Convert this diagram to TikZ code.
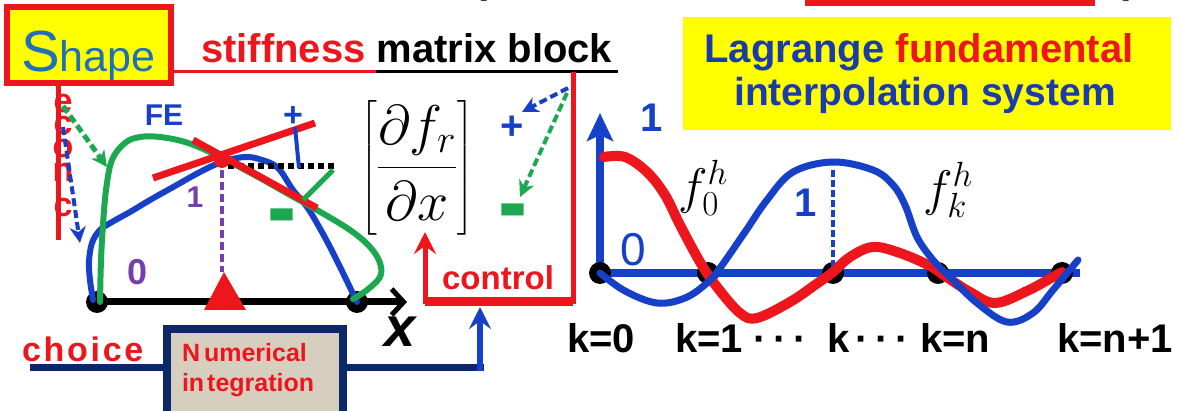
\RequirePackage{fix-cm}
\documentclass[tikz,border=0pt]{standalone}
\usepackage{fontspec}
\setmainfont{Liberation Sans}
\usepackage{amsmath}
\usetikzlibrary{arrows.meta}
\definecolor{rd}{RGB}{236,22,28}
\definecolor{bl}{RGB}{22,64,200}
\definecolor{lagblue}{RGB}{25,60,170}
\definecolor{shapeblue}{RGB}{30,112,185}
\definecolor{navy}{RGB}{12,40,105}
\definecolor{gr}{RGB}{28,168,80}
\definecolor{pu}{RGB}{118,62,170}
\definecolor{yel}{RGB}{255,255,0}
\definecolor{beige}{RGB}{214,206,190}
\newcommand{\fsz}[1]{\fontsize{#1}{#1}\selectfont}
\begin{document}
\begin{tikzpicture}[x=1pt,y=-1pt,
  txt/.style={inner sep=0pt, outer sep=0pt},
  dotb/.style={fill=black, circle, inner sep=0pt, minimum size=22pt},
  curve/.style={line cap=round, line join=round},
  darr/.style={dash pattern=on 8pt off 4pt, line width=4pt, -{Stealth[length=16pt,width=16pt,inset=5pt]}},
  bigminus/.style={txt, anchor=base},
  vlet/.style={txt, text=rd},
]
\useasboundingbox (0,0) rectangle (1181,411);
\fill[white] (0,0) rectangle (1181,411);

% top fragments
\draw[rd, line width=7pt] (805,3) -- (1095,3);
\node[txt, anchor=base] (ya) at (488,-6) {\fsz{40}$y$};
\node[txt, anchor=base] (yb) at (1130,-6) {\fsz{40}$y$};

% Shape box
\node[draw=rd, line width=6pt, fill=yel, minimum width=164pt, minimum height=76pt, inner sep=0pt] (shapebox) at (89,45) {};
\node[txt, anchor=base west, text=shapeblue] (shapetxt) at (21,72) {\fsz{58}S\fsz{43}hape};

% title
\node[txt, anchor=base west] (title) at (201,63) {\fsz{40}\bfseries\textcolor{rd}{stiffness} matrix block};
\coordinate (ul1) at (376,72);
\coordinate (ulend) at (618,72);
\coordinate (corner) at (573,72);
\draw[rd, line width=3pt] (shapebox.east |- ul1) -- (ul1);
\draw[black, line width=3pt] (ul1) -- (ulend);

% vertical red line with letters
\coordinate (ch0) at (58,86);
\coordinate (ch1) at (58,240);
\draw[rd, line width=5pt] (ch0) -- (ch1);
\node[vlet] (l1) at (63,104) {\fsz{34}\bfseries e};
\node[vlet] (l2) at (63,126) {\fsz{34}\bfseries c};
\node[vlet] (l3) at (63,149) {\fsz{34}\bfseries o};
\node[vlet] (l4) at (63,172) {\fsz{34}\bfseries n};
\node[vlet] (l5) at (63,208) {\fsz{34}\bfseries c};

% dashed arrows left
\coordinate (da0) at (63,127); \coordinate (da1) at (80,243);
\draw[darr, bl] (da0) -- (da1);
\coordinate (dg0) at (63,106); \coordinate (dg1) at (107,167);
\draw[darr, gr, line width=5pt] (dg0) -- (dg1);

% axis
\coordinate (a0) at (97,302); \coordinate (a1) at (407,302);
\draw[line width=7pt, -{Straight Barb[length=12pt,width=26pt,line width=5pt]}] (a0) -- (a1);
\node[dotb] (d0) at (a0) {};
\node[dotb] (d1) at (357,302) {};

% curves
\draw[bl, line width=6pt, curve] plot[smooth, tension=0.6] coordinates {(93,300) (90,280) (89,262) (92,243) (100,230) (112,222) (130,212) (150,200) (175,186) (200,172) (222,162) (245,157) (262,160) (278,168) (293,190) (307,207) (318,225) (330,247) (343,273) (357,302)};
\draw[gr, line width=6pt, curve] plot[smooth, tension=0.6] coordinates {(100,302) (101,260) (103,225) (106,190) (112,160) (125,143) (140,137) (160,137) (185,142) (210,152) (230,162) (260,178) (290,195) (317,210) (350,230) (370,247) (380,263) (380,277) (367,290) (353,299)};

\draw[pu, line width=4pt, dash pattern=on 8pt off 4pt] (222,170) -- (222,272);
\fill[rd] (224,272) -- (246,310) -- (204,310) -- cycle;
\draw[black, line width=6pt, dash pattern=on 6pt off 4pt] (228,166) -- (334,166);

% red X
\draw[rd, line width=7pt] (153,178) -- (315,123);
\draw[rd, line width=7pt] (193,140) -- (317,208);
\fill[rd] (222,160) circle (8pt);
\draw[bl, line width=4pt] (295,127) -- (299,168);
\draw[gr, line width=5pt] (333,170) -- (303,200);

\node[txt, text=bl] (fe) at (164,115) {\fsz{30}\bfseries FE};
\node[txt, text=bl] (plus1) at (293,117) {\fsz{34}\bfseries +};
\node[bigminus, text=gr] (minus1) at (282,248) {\scalebox{1}[2.7]{\fsz{45}\bfseries –}};
\node[txt, text=pu] (p1) at (195,197) {\fsz{30}\bfseries 1};
\node[txt, text=pu] (p0) at (138,272) {\fsz{36}\bfseries 0};

% matrix
\node[txt] (mat) at (417,168) {\fsz{56}$\left[\dfrac{\partial f_r}{\partial x}\right]$};
\node[txt, text=bl] (plus2) at (512,128) {\fsz{40}\bfseries +};
\node[bigminus, text=gr] (minus2) at (513,243) {\scalebox{1}[2.7]{\fsz{45}\bfseries –}};
\coordinate (dd0) at (568,88); \coordinate (dd1) at (522,112);
\draw[darr, bl] (dd0) -- (dd1);
\coordinate (dh0) at (567,93); \coordinate (dh1) at (520,197);
\draw[darr, gr] (dh0) -- (dh1);

% control bracket
\coordinate (cb0) at (573,302); \coordinate (cb1) at (425,302); \coordinate (cbtip) at (425,232);
\draw[rd, line width=5pt, -{Stealth[length=22pt,width=22pt,inset=8pt]}] (corner) -- (cb0) -- (cb1) -- (cbtip);
\draw[rd, line width=9pt] (cb1) -- (cb0);
\node[txt, text=rd, anchor=base] (ctrl) at (498,290) {\fsz{33}\bfseries control};

% numerical integration
\coordinate (nl0) at (30,368); \coordinate (nl1) at (484,368);
\node[draw=navy, line width=8pt, fill=beige, minimum width=176pt, minimum height=110pt, anchor=north, inner sep=0pt] (numbox) at (255,325) {};
\draw[navy, line width=7pt] (nl0) -- (nl0 -| numbox.west);
\draw[navy, line width=7pt] (nl0 -| numbox.east) -- (nl1);
\coordinate (bu0) at (480,371); \coordinate (butip) at (480,307);
\draw[bl, line width=6pt, -{Stealth[length=22pt,width=22pt,inset=8pt]}] (bu0) -- (butip);
\node[txt, text=rd, anchor=base west] (num1) at (182,362) {\fsz{25}\bfseries N\hspace{4pt}umerical};
\node[txt, text=rd, anchor=base west] (num2) at (182,392) {\fsz{25}\bfseries in\hspace{3pt}tegration};
\node[txt, text=rd, anchor=base west] (choice) at (22,362) {\fsz{34}\bfseries\addfontfeatures{LetterSpace=8}choice};
\node[txt, anchor=base] (xl) at (400,347) {\fsz{56}\bfseries\itshape x};

% Lagrange box
\node[fill=yel, minimum width=488pt, minimum height=113pt, inner sep=0pt] (lagbox) at (927,74) {};
\node[txt, anchor=base] (lag1) at (919,63) {\fsz{40}\bfseries\textcolor{lagblue}{Lagrange} \textcolor{rd}{fundamental}};
\node[txt, anchor=base, text=lagblue] (lag2) at (925,106) {\fsz{39}\bfseries interpolation system};

% right plot
\coordinate (o) at (600,273); \coordinate (ytip) at (600,113); \coordinate (xend) at (1080,273);
\draw[bl, line width=8pt] (o) -- (xend);
\draw[bl, line width=8pt, -{Stealth[length=28pt,width=26pt,inset=6pt]}] (o) -- (ytip);
\node[dotb] (k0) at (600,273) {};
\node[dotb] (k1) at (708,273) {};
\node[dotb] (k2) at (833,273) {};
\node[dotb] (k3) at (938,273) {};
\node[dotb] (k4) at (1062,273) {};
\draw[bl, line width=4pt, dash pattern=on 7pt off 3pt] (833,170) -- (k2.center);
\draw[rd, line width=10pt, curve] plot[smooth, tension=0.6] coordinates {(604,157) (625,157) (647,172) (665,195) (680,225) (700,262) (717,287) (740,313) (757,318) (790,302) (815,285) (833,272) (850,257) (873,247) (900,253) (930,266) (945,276) (970,292) (995,303) (1027,291) (1053,277) (1062,272)};
\draw[bl, line width=7pt, curve] plot[smooth, tension=0.6] coordinates {(600,273) (625,291) (657,303) (685,298) (707,283) (720,268) (745,232) (767,200) (793,172) (833,162) (873,170) (893,185) (905,205) (917,237) (933,260) (950,277) (977,303) (1007,322) (1033,313) (1053,290) (1078,260)};

\node[txt, text=bl] (one1) at (652,118) {\fsz{40}\bfseries 1};
\node[txt, text=bl] (zero1) at (633,250) {\fsz{46}0};
\node[txt, text=bl] (one2) at (806,203) {\fsz{40}\bfseries 1};
\node[txt] (f0) at (703,188) {\fsz{50}$f_0^h$};
\node[txt] (fk) at (948,190) {\fsz{50}$f_k^h$};

\node[txt, anchor=base west] (kl0) at (567,353) {\fsz{40}\bfseries k=0};
\node[txt, anchor=base west] (kl1) at (675,353) {\fsz{40}\bfseries k=1 ·\,·\,·};
\node[txt, anchor=base west] (klk) at (827,353) {\fsz{40}\bfseries k\,·\,·\,·};
\node[txt, anchor=base west] (kln) at (920,353) {\fsz{40}\bfseries k=n};
\node[txt, anchor=base west] (kln1) at (1057,353) {\fsz{40}\bfseries k=n+1};
\end{tikzpicture}
\end{document}
